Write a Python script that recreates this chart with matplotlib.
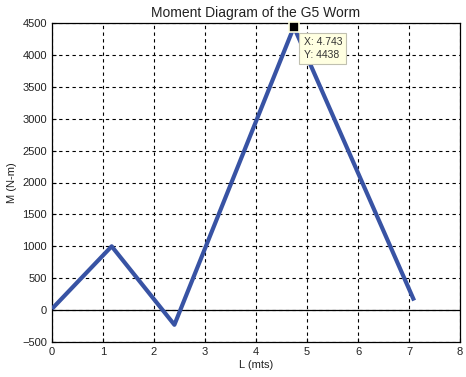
import matplotlib
matplotlib.use("Agg")
import matplotlib.pyplot as plt

L = [0, 1.17, 2.4, 4.743, 7.1]
M = [20, 1000, -230, 4438, 150]
tip_x, tip_y = 4.743, 4438
xticks = [0, 1, 2, 3, 4, 5, 6, 7, 8]
yticks = [-500, 0, 500, 1000, 1500, 2000, 2500, 3000, 3500, 4000, 4500]

plt.rcParams['font.family'] = ['Liberation Sans', 'DejaVu Sans']
fig = plt.figure(figsize=(4.66, 3.77), dpi=100)
ax = fig.add_axes([52/466, 1-342/377, 408/466, 319/377])
ax.plot(L, M, color='#3853a4', lw=3.0, solid_capstyle='butt', zorder=3)
ax.axhline(0, color='black', lw=0.9, zorder=2)
ax.set_xlim(0, 8)
ax.set_ylim(-500, 4500)
ax.set_xticks(xticks)
ax.set_yticks(yticks)
ax.grid(True, color='black', linestyle=(0, (3, 3)), lw=0.8)
ax.tick_params(direction='in', labelsize=8, length=3, colors='black', labelcolor='#222222')
for s in ax.spines.values():
    s.set_linewidth(0.9)
ax.set_title('Moment Diagram of the G5 Worm', fontsize=10, pad=4, color='#222222')
ax.set_xlabel('L (mts)', fontsize=8, labelpad=2, color='#222222')
ax.set_ylabel('M (N-m)', fontsize=8, labelpad=4, color='#222222')
ax.plot([tip_x], [tip_y], marker='s', color='black', ms=6.5, mec='#ffffe0', mew=1.2, zorder=5, clip_on=False)
ax.annotate(f'X: {tip_x}\nY: {tip_y}', xy=(tip_x, tip_y), xytext=(7, -7),
            textcoords='offset points', ha='left', va='top', fontsize=7.5,
            linespacing=1.4, color='#333333',
            bbox=dict(boxstyle='square,pad=0.4', fc='#ffffe1', ec='#c0c0b0', lw=0.8),
            zorder=6)
fig.savefig('out.png', dpi=100)
